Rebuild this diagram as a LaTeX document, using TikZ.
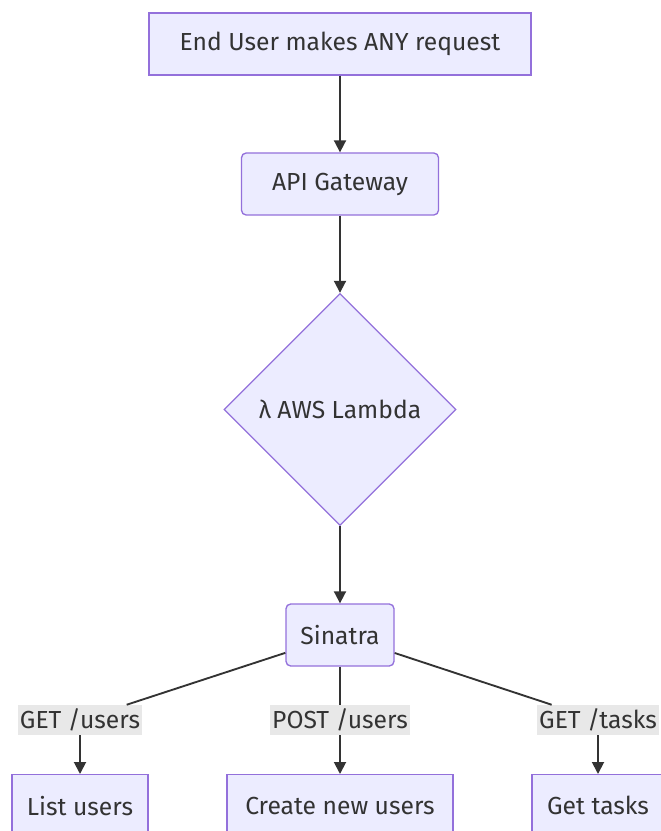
\documentclass[tikz,border=0pt]{standalone}
\usepackage{fontspec}
\setmainfont{Fira Sans}
\usetikzlibrary{shapes.geometric, arrows.meta}
\definecolor{mmfill}{HTML}{ECECFF}
\definecolor{mmstroke}{HTML}{9370DB}
\definecolor{mmline}{HTML}{333333}
\definecolor{mmlabel}{HTML}{E8E8E8}

\tikzset{
    box/.style={draw=mmstroke, fill=mmfill, line width=1pt, text=mmline,
        minimum height=46.5pt, font=\fontsize{18.5}{21}\selectfont},
    roundbox/.style={box, rounded corners=3.5pt},
    decision/.style={box, diamond, aspect=1, inner sep=0pt, minimum size=174pt},
    edgelabel/.style={fill=mmlabel, text=mmline, inner sep=1.5pt,
        minimum height=22.5pt, font=\fontsize{18.5}{21}\selectfont},
    flow/.style={draw=mmline, line width=1.4pt, -{Triangle[length=9pt, width=9pt]}},
    flowline/.style={draw=mmline, line width=1.4pt}
}

\begin{document}
\begin{tikzpicture}[x=0.75pt, y=-0.75pt]
    \useasboundingbox (0, 0) rectangle (660, 831);
    % Request path down to the router.
    \node[box, minimum width=286.5pt] (request) at (340, 44) {End User makes ANY request};
    \node[roundbox, minimum width=147.75pt] (gateway) at (340, 184) {API Gateway};
    \node[decision] (lambda) at (340, 409.5) {λ AWS Lambda};
    \node[roundbox, minimum width=81pt] (sinatra) at (340, 635) {Sinatra};

    \node[edgelabel] (getusers) at (80, 720) {GET /users};
    \node[edgelabel] (postusers) at (340, 720) {POST /users};
    \node[edgelabel] (gettasks) at (598, 720) {GET /tasks};

    \node[box, minimum width=102pt, anchor=north] (listusers) at (80, 774) {List users};
    \node[box, minimum width=169.5pt, anchor=north] (createusers) at (340, 774) {Create new users};
    \node[box, minimum width=99pt, anchor=north] (gettasksbox) at (598, 774) {Get tasks};

    \draw[flow] (request) -- (gateway);
    \draw[flow] (gateway) -- (lambda);
    \draw[flow] (lambda) -- (sinatra);

    \draw[flowline] (sinatra) -- (getusers);
    \draw[flow] (getusers) -- (listusers);
    \draw[flowline] (sinatra) -- (postusers);
    \draw[flow] (postusers) -- (createusers);
    \draw[flowline] (sinatra) -- (gettasks);
    \draw[flow] (gettasks) -- (gettasksbox);
\end{tikzpicture}
\end{document}
